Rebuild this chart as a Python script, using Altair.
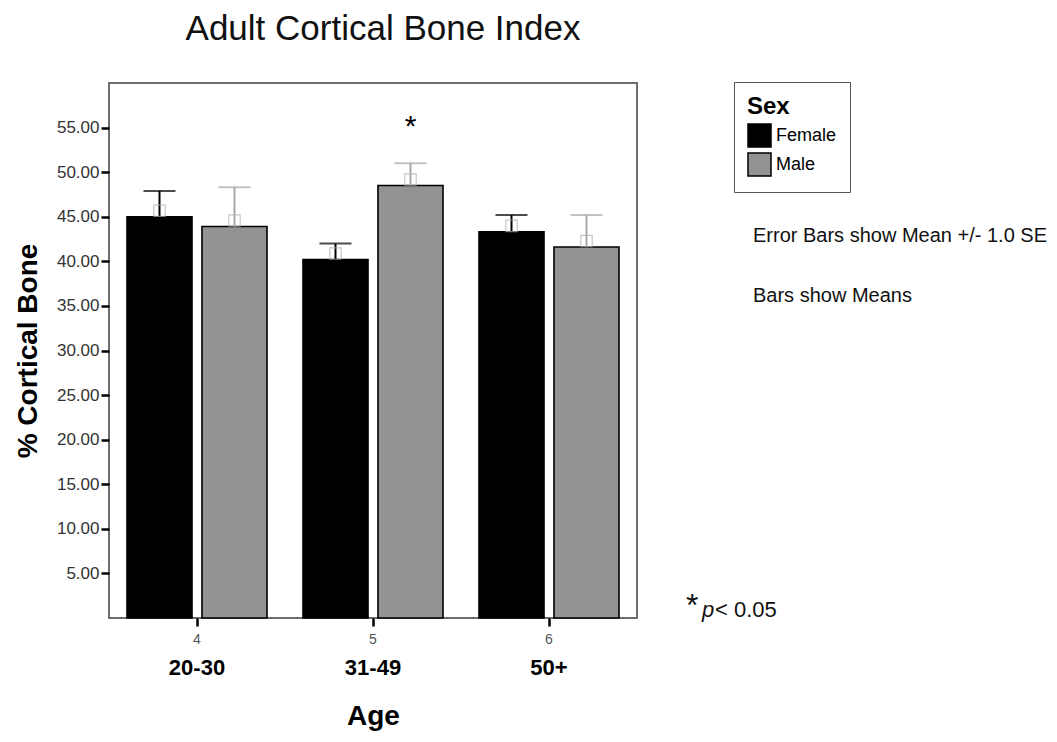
import altair as alt
import pandas as pd

# ---- data ----
age_groups = ["20-30", "31-49", "50+"]
age_codes = ["4", "5", "6"]
sexes = ["Female", "Male"]
female_mean = [45.0, 40.2, 43.3]
male_mean = [43.9, 48.5, 41.6]
female_se = [2.9, 1.8, 1.9]
male_se = [4.4, 2.5, 3.6]
significant = [False, True, False]  # male vs female, p < 0.05

rows = []
for i, a in enumerate(age_groups):
    rows.append({"Age": a, "Code": age_codes[i], "Sex": "Female", "Mean": female_mean[i],
                 "Upper": female_mean[i] + female_se[i], "Sig": False})
    rows.append({"Age": a, "Code": age_codes[i], "Sex": "Male", "Mean": male_mean[i],
                 "Upper": male_mean[i] + male_se[i], "Sig": significant[i]})
df = pd.DataFrame(rows)

FONT = "Liberation Sans"
W, H = 528, 535

code_map = "{" + ",".join(f"'{a}':'{c}'" for a, c in zip(age_groups, age_codes)) + "}"

x_enc = alt.X("Age:N", sort=age_groups,
              scale=alt.Scale(paddingInner=0, paddingOuter=0),
              axis=alt.Axis(title="Age", labelExpr=f"{code_map}[datum.value]",
                            labelAngle=0, labelFontSize=14, labelColor="#555",
                            labelFont=FONT, labelPadding=6,
                            tickSize=8, tickWidth=2.5, tickColor="black",
                            domain=False, titleFontSize=28, titleFont=FONT,
                            titleFontWeight="bold", titlePadding=56, titleColor="black"))
xoff = alt.XOffset("Sex:N", sort=sexes,
                   scale=alt.Scale(paddingInner=0.133, paddingOuter=0.24))
y_scale = alt.Scale(domain=[0, 60], nice=False)
y_axis = alt.Axis(title="% Cortical Bone", values=[5, 10, 15, 20, 25, 30, 35, 40, 45, 50, 55],
                  format=".2f", labelFontSize=17, labelFont=FONT, labelColor="#333",
                  labelPadding=2,
                  tickSize=8, tickWidth=2.5, tickColor="black", domain=False, grid=False,
                  titleFontSize=28, titleFont=FONT, titleFontWeight="bold",
                  titlePadding=14, titleColor="black")

base = alt.Chart(df)

bars = base.mark_bar(stroke="black", strokeWidth=1.6).encode(
    x=x_enc, xOffset=xoff,
    y=alt.Y("Mean:Q", scale=y_scale, axis=y_axis),
    color=alt.Color("Sex:N", sort=sexes,
                    scale=alt.Scale(domain=sexes, range=["#000000", "#939393"]),
                    legend=alt.Legend(title="Sex", orient="none", legendX=625, legendY=-1,
                                      strokeColor="#555", fillColor="white", padding=13,
                                      titleFontSize=24, titleFontWeight="bold", titleFont=FONT,
                                      titleColor="black", titlePadding=4,
                                      labelFontSize=18, labelFont=FONT, labelColor="black",
                                      symbolType="square", symbolSize=529,
                                      symbolStrokeColor="black", symbolStrokeWidth=1.5,
                                      rowPadding=0, labelOffset=4)),
)

err_color = alt.condition(alt.datum.Sex == "Female", alt.value("black"), alt.value("#a8a8a8"))

err = base.mark_rule(strokeWidth=2).encode(
    x=x_enc, xOffset=xoff, y="Mean:Q", y2="Upper:Q", color=err_color)

caps = base.mark_tick(size=32, thickness=2).encode(
    x=x_enc, xOffset=xoff, y="Upper:Q", color=err_color)

markers = base.mark_point(shape="square", size=130, filled=False, strokeWidth=1.2,
                          color="#b0b0b0", yOffset=-6).encode(
    x=x_enc, xOffset=xoff, y="Mean:Q")

stars = base.transform_filter(alt.datum.Sig).mark_text(
    text="*", fontSize=30, font=FONT, dy=-36, baseline="middle", color="black").encode(
    x=x_enc, xOffset=xoff, y="Upper:Q")

age_labels = alt.Chart(pd.DataFrame({"Age": age_groups})).mark_text(
    fontSize=22, fontWeight="bold", font=FONT, baseline="middle", color="black").encode(
    x=alt.X("Age:N", sort=age_groups), y=alt.value(H + 50), text="Age:N")

def note(txt, x, y, size=20, style="normal", align="left"):
    return alt.Chart(pd.DataFrame({"t": [txt]})).mark_text(
        fontSize=size, font=FONT, fontStyle=style, align=align, baseline="alphabetic",
        color="#111").encode(x=alt.value(x), y=alt.value(y), text="t:N")

title = note("Adult Cortical Bone Index", 274, -43, 35, align="center")

notes = [
    note("Error Bars show Mean +/- 1.0 SE", 644, 159, 20),
    note("Bars show Means", 644, 219, 20),
    note("*", 577, 533, 32),
    note("p", 593, 534, 22, "italic"),
    note("< 0.05", 606, 534, 22),
]

chart = alt.layer(bars, err, caps, markers, stars, age_labels, title, *notes).properties(
    width=W, height=H,
    autosize=alt.AutoSizeParams(type="none"),
    padding={"left": 101, "top": 75, "right": 412, "bottom": 116},
).configure(background="white").configure_view(stroke="#6e6e6e", strokeWidth=2)

chart.save("out.html", embed_options={"renderer": "svg", "actions": False})
